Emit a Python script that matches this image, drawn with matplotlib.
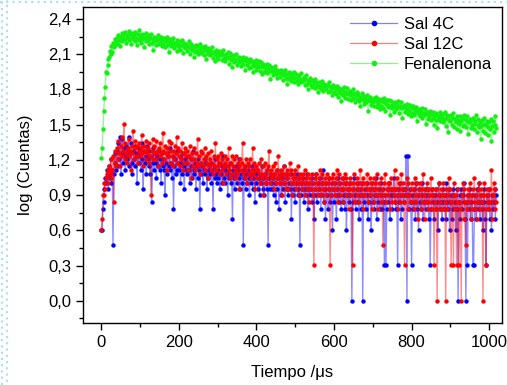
import numpy as np
import matplotlib
matplotlib.use("Agg")
import matplotlib.pyplot as plt
from matplotlib.lines import Line2D
from matplotlib.ticker import MultipleLocator, FuncFormatter

# log(Cuentas) de Fenalenona, una muestra cada 2 us (10 muestras por fila = 20 us)
fenalenona = [
    1.22, 1.30, 1.46, 1.62, 1.73, 1.82, 1.95, 1.94, 2.01, 2.06,
    2.08, 2.13, 2.10, 2.17, 2.12, 2.20, 2.16, 2.23, 2.18, 2.21,
    2.24, 2.19, 2.26, 2.22, 2.17, 2.25, 2.28, 2.21, 2.24, 2.27,
    2.23, 2.29, 2.20, 2.26, 2.24, 2.30, 2.22, 2.27, 2.19, 2.25,
    2.28, 2.23, 2.26, 2.21, 2.29, 2.24, 2.18, 2.27, 2.22, 2.31,
    2.25, 2.20, 2.27, 2.23, 2.26, 2.16, 2.24, 2.28, 2.21, 2.25,
    2.22, 2.26, 2.19, 2.24, 2.27, 2.20, 2.23, 2.14, 2.25, 2.21,
    2.24, 2.18, 2.22, 2.26, 2.19, 2.23, 2.20, 2.25, 2.17, 2.22,
    2.19, 2.24, 2.16, 2.21, 2.25, 2.18, 2.22, 2.12, 2.20, 2.23,
    2.17, 2.21, 2.19, 2.24, 2.15, 2.20, 2.18, 2.22, 2.13, 2.19,
    2.16, 2.21, 2.14, 2.18, 2.22, 2.11, 2.17, 2.20, 2.15, 2.19,
    2.13, 2.18, 2.16, 2.21, 2.10, 2.15, 2.19, 2.14, 2.17, 2.08,
    2.16, 2.12, 2.18, 2.14, 2.10, 2.17, 2.13, 2.19, 2.11, 2.15,
    2.12, 2.16, 2.09, 2.14, 2.17, 2.06, 2.13, 2.15, 2.10, 2.14,
    2.09, 2.13, 2.11, 2.16, 2.07, 2.12, 2.04, 2.10, 2.14, 2.08,
    2.11, 2.06, 2.13, 2.09, 2.12, 2.05, 2.10, 2.14, 2.07, 2.09,
    2.04, 2.10, 2.07, 2.12, 2.02, 2.08, 2.11, 2.05, 2.09, 1.99,
    2.07, 2.03, 2.09, 2.05, 2.10, 2.01, 2.06, 2.08, 2.03, 2.07,
    2.00, 2.05, 2.08, 2.02, 2.06, 1.97, 2.04, 2.07, 2.01, 2.05,
    1.98, 2.03, 2.06, 1.99, 2.04, 2.01, 1.95, 2.03, 2.00, 2.05,
    1.97, 2.02, 1.99, 2.04, 1.96, 2.00, 2.03, 1.93, 1.99, 2.02,
    1.95, 2.00, 1.97, 2.02, 1.94, 1.98, 2.01, 1.96, 1.89, 1.99,
    1.96, 1.92, 1.98, 1.95, 2.00, 1.93, 1.97, 1.90, 1.96, 1.94,
    1.91, 1.97, 1.93, 1.96, 1.88, 1.94, 1.92, 1.97, 1.90, 1.85,
    1.93, 1.89, 1.95, 1.91, 1.94, 1.87, 1.92, 1.90, 1.95, 1.86,
    1.90, 1.93, 1.87, 1.91, 1.85, 1.92, 1.88, 1.94, 1.86, 1.89,
    1.87, 1.91, 1.84, 1.89, 1.92, 1.85, 1.80, 1.88, 1.86, 1.90,
    1.84, 1.88, 1.82, 1.87, 1.85, 1.89, 1.81, 1.86, 1.83, 1.78,
    1.86, 1.82, 1.85, 1.80, 1.87, 1.83, 1.79, 1.85, 1.81, 1.84,
    1.80, 1.84, 1.78, 1.83, 1.86, 1.79, 1.82, 1.75, 1.81, 1.84,
    1.78, 1.82, 1.76, 1.80, 1.83, 1.74, 1.79, 1.81, 1.77, 1.70,
    1.80, 1.75, 1.79, 1.82, 1.73, 1.78, 1.76, 1.81, 1.72, 1.77,
    1.75, 1.79, 1.71, 1.76, 1.80, 1.73, 1.77, 1.69, 1.75, 1.78,
    1.72, 1.76, 1.70, 1.74, 1.66, 1.73, 1.77, 1.71, 1.75, 1.68,
    1.73, 1.69, 1.75, 1.71, 1.62, 1.72, 1.70, 1.74, 1.67, 1.71,
    1.69, 1.73, 1.66, 1.71, 1.74, 1.65, 1.70, 1.68, 1.72, 1.63,
    1.70, 1.66, 1.72, 1.64, 1.69, 1.73, 1.62, 1.68, 1.71, 1.65,
    1.67, 1.71, 1.58, 1.66, 1.70, 1.64, 1.68, 1.61, 1.69, 1.66,
    1.63, 1.68, 1.65, 1.70, 1.60, 1.66, 1.64, 1.69, 1.56, 1.65,
    1.67, 1.61, 1.66, 1.63, 1.68, 1.59, 1.65, 1.62, 1.67, 1.57,
    1.64, 1.60, 1.66, 1.58, 1.63, 1.61, 1.65, 1.53, 1.62, 1.59,
    1.63, 1.57, 1.61, 1.64, 1.56, 1.60, 1.58, 1.63, 1.51, 1.59,
    1.61, 1.55, 1.60, 1.57, 1.62, 1.54, 1.59, 1.56, 1.61, 1.50,
    1.58, 1.54, 1.60, 1.47, 1.57, 1.55, 1.61, 1.53, 1.58, 1.56,
    1.52, 1.59, 1.55, 1.61, 1.49, 1.56, 1.58, 1.44, 1.54, 1.57,
    1.53, 1.58, 1.50, 1.56, 1.60, 1.48, 1.55, 1.52, 1.57, 1.46,
    1.54, 1.51, 1.57, 1.45, 1.53, 1.56, 1.49, 1.58, 1.50, 1.55,
    1.48, 1.53, 1.57, 1.42, 1.52, 1.55, 1.47, 1.54, 1.50, 1.56,
    1.51, 1.46, 1.53, 1.58, 1.44, 1.50, 1.55, 1.48, 1.52, 1.38,
    1.49, 1.54, 1.45, 1.51, 1.56, 1.43, 1.50, 1.53, 1.41, 1.48,
    1.52, 1.46, 1.55, 1.36, 1.49, 1.53, 1.44, 1.50, 1.57, 1.47,
]

# cuentas de Sal 12C (se grafica log10)
sal12c = [
    4, 5, 8, 8, 10, 9, 11, 12, 13, 10,
    14, 12, 16, 11, 13, 17, 7, 15, 19, 14,
    20, 16, 23, 18, 14, 21, 17, 25, 19, 32,
    16, 22, 18, 15, 20, 24, 17, 19, 13, 21,
    18, 28, 16, 20, 23, 17, 21, 15, 19, 22,
    17, 20, 26, 18, 14, 21, 19, 16, 23, 18,
    20, 15, 22, 17, 8, 19, 24, 16, 21, 18,
    16, 23, 19, 14, 20, 17, 22, 18, 15, 27,
    19, 16, 21, 18, 13, 20, 17, 23, 15, 19,
    22, 17, 14, 19, 16, 21, 18, 25, 15, 20,
    17, 14, 19, 16, 22, 13, 18, 15, 20, 17,
    15, 19, 13, 17, 21, 16, 11, 18, 14, 20,
    16, 13, 18, 15, 24, 14, 17, 12, 19, 15,
    18, 14, 16, 20, 13, 17, 15, 11, 18, 14,
    16, 19, 13, 15, 12, 17, 14, 22, 13, 16,
    14, 17, 12, 15, 18, 13, 16, 10, 14, 17,
    15, 12, 16, 14, 20, 13, 11, 15, 17, 12,
    14, 16, 11, 13, 17, 12, 15, 9, 14, 16,
    13, 15, 22, 12, 14, 11, 16, 13, 10, 15,
    12, 14, 16, 11, 13, 20, 12, 15, 9, 13,
    14, 11, 13, 15, 10, 12, 16, 11, 14, 8,
    12, 15, 10, 13, 11, 14, 19, 12, 10, 13,
    11, 14, 9, 12, 15, 10, 13, 11, 17, 12,
    10, 13, 11, 8, 12, 14, 10, 12, 9, 13,
    11, 9, 12, 15, 10, 13, 8, 11, 12, 10,
    13, 9, 11, 10, 14, 8, 12, 10, 11, 9,
    12, 10, 8, 13, 11, 9, 12, 10, 7, 11,
    9, 12, 10, 8, 2, 11, 9, 12, 10, 8,
    11, 9, 13, 8, 10, 12, 9, 7, 11, 10,
    8, 12, 9, 11, 10, 2, 8, 11, 9, 12,
    10, 8, 11, 9, 13, 7, 10, 12, 8, 9,
    11, 9, 7, 10, 12, 8, 11, 9, 10, 6,
    9, 11, 8, 10, 2, 9, 12, 7, 10, 8,
    11, 9, 7, 10, 13, 8, 9, 11, 6, 10,
    8, 10, 9, 12, 7, 9, 11, 8, 10, 6,
    9, 11, 7, 10, 8, 12, 9, 6, 10, 8,
    11, 7, 9, 3, 10, 8, 12, 7, 9, 10,
    8, 10, 6, 9, 11, 7, 9, 8, 13, 7,
    9, 11, 8, 6, 10, 7, 9, 12, 8, 10,
    7, 2, 9, 8, 11, 6, 10, 8, 7, 9,
    10, 7, 9, 6, 11, 8, 7, 10, 5, 9,
    8, 10, 6, 9, 7, 12, 8, 5, 9, 7,
    10, 6, 8, 9, 7, 11, 6, 8, 9, 2,
    7, 9, 6, 1, 8, 10, 7, 6, 9, 8,
    6, 10, 8, 7, 1, 9, 6, 8, 11, 7,
    9, 2, 7, 8, 2, 10, 6, 8, 2, 7,
    9, 2, 7, 6, 1, 8, 10, 5, 9, 7,
    3, 8, 6, 9, 7, 10, 5, 8, 6, 9,
    7, 11, 6, 8, 5, 9, 7, 10, 6, 8,
    9, 7, 1, 8, 10, 6, 2, 9, 7, 8,
    6, 9, 7, 13, 5, 8, 10, 6, 9, 7,
]

# cuentas de Sal 4C (se grafica log10)
sal4c = [
    4, 4, 6, 7, 9, 11, 10, 13, 12, 9,
    14, 11, 16, 10, 13, 3, 12, 15, 18, 13,
    19, 14, 22, 16, 25, 12, 18, 24, 15, 20,
    17, 13, 21, 16, 19, 25, 14, 18, 22, 15,
    12, 19, 16, 21, 14, 18, 10, 17, 20, 15,
    18, 13, 22, 16, 9, 19, 15, 17, 12, 21,
    16, 14, 19, 12, 17, 7, 15, 20, 13, 18,
    15, 11, 17, 14, 19, 13, 16, 10, 18, 14,
    16, 13, 8, 15, 18, 12, 17, 14, 20, 13,
    15, 11, 17, 6, 14, 16, 12, 19, 13, 15,
    13, 17, 10, 15, 12, 18, 14, 9, 16, 13,
    15, 12, 17, 13, 10, 16, 14, 11, 19, 13,
    12, 15, 9, 14, 16, 11, 13, 6, 15, 12,
    14, 10, 13, 16, 12, 15, 9, 13, 11, 14,
    12, 15, 10, 13, 6, 14, 11, 16, 12, 10,
    13, 11, 15, 9, 12, 14, 10, 17, 11, 13,
    10, 14, 12, 8, 13, 11, 15, 10, 12, 5,
    13, 11, 9, 14, 12, 10, 13, 16, 11, 9,
    12, 10, 13, 3, 11, 14, 9, 12, 10, 13,
    11, 8, 12, 10, 14, 9, 11, 13, 7, 12,
    10, 13, 9, 11, 8, 12, 10, 14, 9, 11,
    8, 12, 10, 9, 13, 3, 11, 9, 12, 10,
    9, 11, 8, 12, 10, 7, 13, 9, 11, 6,
    10, 12, 8, 11, 9, 14, 10, 7, 12, 9,
    11, 8, 10, 9, 12, 5, 10, 8, 11, 9,
    7, 10, 12, 8, 9, 11, 3, 10, 8, 9,
    11, 7, 9, 10, 8, 12, 6, 9, 10, 8,
    9, 11, 7, 10, 5, 8, 9, 12, 7, 10,
    8, 9, 11, 6, 10, 8, 13, 7, 9, 5,
    10, 8, 6, 9, 11, 7, 8, 10, 4, 9,
    7, 10, 8, 5, 9, 11, 7, 8, 10, 6,
    9, 7, 11, 8, 6, 10, 4, 8, 9, 7,
    10, 8, 6, 1, 9, 7, 11, 8, 6, 9,
    7, 10, 5, 8, 9, 6, 10, 1, 8, 7,
    9, 6, 8, 10, 5, 7, 9, 8, 4, 10,
    7, 9, 6, 8, 11, 5, 8, 7, 9, 6,
    8, 10, 6, 9, 7, 2, 8, 2, 6, 9,
    7, 10, 5, 8, 9, 6, 8, 11, 7, 9,
    6, 8, 2, 9, 7, 10, 5, 8, 6, 9,
    7, 8, 9, 17, 1, 17, 8, 6, 9, 7,
    2, 8, 6, 9, 7, 5, 10, 6, 8, 4,
    9, 7, 6, 10, 8, 5, 7, 9, 6, 8,
    7, 9, 5, 8, 2, 6, 9, 7, 8, 5,
    8, 6, 9, 7, 4, 10, 6, 8, 7, 5,
    9, 7, 6, 8, 5, 10, 7, 6, 9, 4,
    7, 8, 5, 9, 6, 8, 7, 4, 9, 6,
    1, 7, 8, 5, 9, 6, 8, 7, 10, 5,
    1, 7, 2, 8, 6, 9, 5, 7, 8, 2,
    2, 6, 8, 5, 9, 7, 6, 10, 5, 7,
    8, 6, 4, 9, 7, 5, 2, 8, 6, 7,
    9, 5, 7, 4, 8, 6, 7, 9, 5, 8,
]

paso = 2  # us entre muestras

plt.rcParams['font.family'] = ['Liberation Sans', 'DejaVu Sans']

fig = plt.figure(figsize=(5.07, 3.85), dpi=100)
ax = fig.add_axes([0.164, 0.161, 0.826, 0.820])

series = [
    ('Sal 4C', np.log10(sal4c), '#0000ff'),
    ('Sal 12C', np.log10(sal12c), '#ff0000'),
    ('Fenalenona', np.array(fenalenona), '#11f011'),
]
for nombre, y, c in series:
    t = np.arange(len(y)) * paso
    ax.plot(t, y, '-', color=matplotlib.colors.to_rgba(c, 0.45), lw=1.0)
    ax.plot(t, y, 'o', color=c, ms=3.2, mew=0)

handles = [Line2D([], [], color=matplotlib.colors.to_rgba(c, 0.5), lw=0.9,
                  marker='o', ms=3.0, mfc=c, mec=c) for _, _, c in series]
ax.legend(handles, [s[0] for s in series], loc='upper right',
          bbox_to_anchor=(1.0, 1.0), frameon=False, fontsize=12,
          handlelength=2.8, handletextpad=0.4, labelspacing=0.3,
          borderaxespad=0.2)

ax.set_xlim(-47, 1033)
ax.set_ylim(-0.19, 2.5)
ax.xaxis.set_major_locator(MultipleLocator(200))
ax.xaxis.set_minor_locator(MultipleLocator(100))
ax.yaxis.set_major_locator(MultipleLocator(0.3))
ax.yaxis.set_minor_locator(MultipleLocator(0.15))
ax.yaxis.set_major_formatter(FuncFormatter(lambda v, p: f'{v:.1f}'.replace('.', ',')))
ax.tick_params(which='major', direction='out', length=5, width=1, labelsize=12)
ax.tick_params(which='minor', direction='out', length=3, width=1)
for s in ax.spines.values():
    s.set_linewidth(1.0)

ax.set_xlabel('Tiempo /μs', fontsize=12, labelpad=11)
ax.set_ylabel('log (Cuentas)', fontsize=12, labelpad=11)

# borde punteado del fondo
fig.add_artist(Line2D([0.004, 0.004], [0, 1], transform=fig.transFigure,
                      color='#a6def5', lw=1.5, ls=(0, (1, 2))))
fig.add_artist(Line2D([0.014, 0.014], [0, 1], transform=fig.transFigure,
                      color='#a6def5', lw=1.5, ls=(1.5, (1, 2))))
fig.add_artist(Line2D([0, 1], [0.995, 0.995], transform=fig.transFigure,
                      color='#a6def5', lw=1.5, ls=(0, (1, 2))))

fig.savefig('out.png', dpi=100)
